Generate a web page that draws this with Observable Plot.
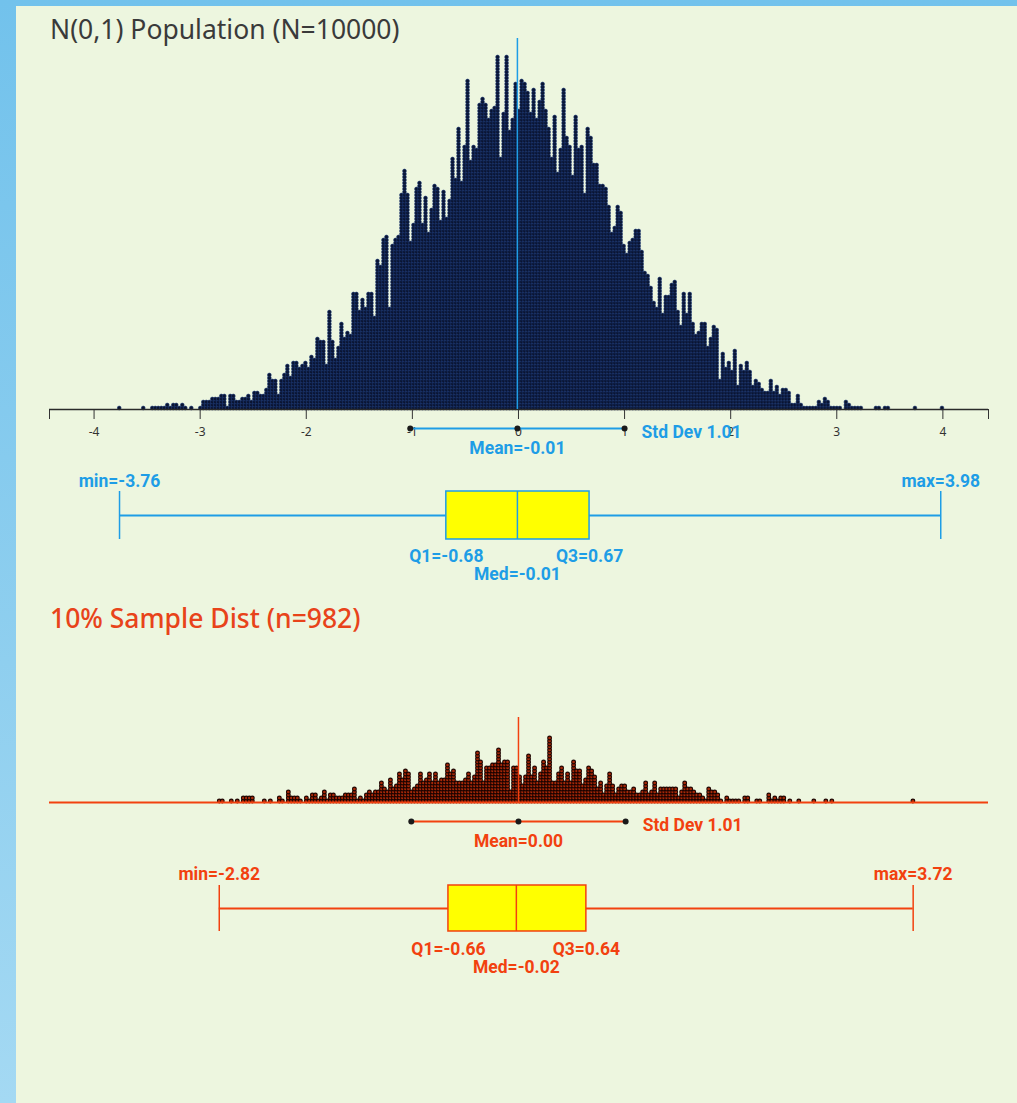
<!DOCTYPE html>
<html>
<head>
<meta charset="utf-8">
<script src="https://cdn.jsdelivr.net/npm/d3@7"></script>
<script src="https://cdn.jsdelivr.net/npm/@observablehq/plot@0.6"></script>
<style>
  html, body { margin: 0; padding: 0; }
  body { width: 1017px; height: 1103px; overflow: hidden; position: relative;
         background: linear-gradient(to bottom, #72c2ec 0%, #8fcfef 60%, #a4d9f3 100%); }
  #panel { position: absolute; left: 16px; top: 6px; width: 1001px; height: 1097px; background: #edf6df; }
  .abs { position: absolute; left: 0; }
  .title { position: absolute; font-family: "Noto Sans", sans-serif; font-size: 26.5px; line-height: 1; white-space: nowrap; }
  svg { overflow: visible; }
</style>
</head>
<body>
<div id="panel"></div>
<div class="title" id="t1" style="left:50px; top:16px; color:#3a3a3a;">N(0,1) Population (N=10000)</div>
<div class="title" id="t2" style="left:50px; top:605px; color:#e8431a; font-weight:500;">10% Sample Dist (n=982)</div>
<div class="abs" id="popHist" style="top:30px"></div>
<div class="abs" id="popBox" style="top:465px"></div>
<div class="abs" id="smpHist" style="top:700px"></div>
<div class="abs" id="smpBox" style="top:855px"></div>
<script>
// ---------------- data ----------------
// population histogram: counts per bin (bin width ~0.0283, first bin starts at -3.777)
const popBinStart = -3.777;
const popBinWidth = 0.0283;
const popCounts = [
  1,0,0,0,0,0,0,0,1,0,
  0,1,1,1,1,1,2,1,2,2,
  1,2,1,0,1,0,0,1,3,3,
  3,4,4,4,5,5,1,5,5,3,
  3,4,4,5,3,6,6,5,5,7,
  12,10,10,5,10,12,15,11,16,16,
  14,15,16,14,18,17,24,23,23,15,
  33,23,17,21,29,24,26,25,39,39,
  33,37,34,39,39,31,50,48,57,58,
  34,55,57,58,72,80,72,56,62,74,
  76,62,71,59,67,75,74,63,73,64,
  70,84,77,94,76,88,110,83,88,87,
  102,104,102,97,100,101,118,84,99,118,
  93,97,109,100,110,109,106,99,107,97,
  103,109,100,94,84,98,79,87,107,91,
  88,78,98,87,88,72,94,91,82,82,
  75,75,74,68,59,61,68,66,55,52,
  56,57,60,60,53,46,45,41,36,34,
  44,32,38,38,42,43,33,28,39,32,
  39,29,25,26,29,29,21,24,28,27,
  10,19,14,16,13,20,8,15,13,16,
  13,8,10,9,7,6,6,10,6,8,
  5,7,7,6,2,2,5,2,1,1,
  1,1,1,3,2,4,3,1,1,1,
  1,0,3,2,1,1,1,1,0,0,
  0,0,1,1,0,1,1,0,0,0,
  0,0,0,0,0,1,0,0,0,0,
  0,0,0,0,1
];
const popStats = {min: -3.76, q1: -0.68, median: -0.01, q3: 0.67, max: 3.98, mean: -0.01, sd: 1.01};

// 10% sample: counts per bin (same bin width, first bin starts at -2.834)
const smpBinStart = -2.834;
const smpBinWidth = 0.0283;
const smpCounts = [
  1,1,0,0,1,0,1,0,2,2,
  2,2,0,0,0,1,0,1,0,0,
  2,1,0,4,2,2,2,1,0,2,
  1,3,3,1,2,4,1,3,3,2,
  2,2,3,3,3,5,1,2,1,3,
  4,3,4,4,7,5,4,8,5,6,
  10,8,11,10,4,5,6,10,7,8,
  10,7,10,7,8,8,13,10,11,7,
  7,7,8,10,7,9,17,14,7,12,
  12,13,13,18,13,14,14,4,12,12,
  9,6,9,16,9,12,7,10,14,12,
  22,7,7,10,12,7,10,7,14,11,
  11,6,8,12,11,9,5,7,3,6,
  10,6,3,5,6,6,4,4,5,3,
  3,4,7,3,4,7,3,5,5,5,
  5,5,5,2,4,7,5,5,4,3,
  3,2,1,5,4,4,3,1,0,2,
  1,1,1,1,0,2,2,0,0,1,
  1,0,0,3,1,2,1,2,2,0,
  1,0,0,1,0,0,0,0,1,0,
  0,0,1,0,1,0,0,0,0,0,
  0,0,0,0,0,0,0,0,0,0,
  0,0,0,0,0,0,0,0,0,0,
  0,1
];
const smpStats = {min: -2.82, q1: -0.66, median: -0.02, q3: 0.64, max: 3.72, mean: 0.00, sd: 1.01};

const xTicks = [-4, -3, -2, -1, 0, 1, 2, 3, 4];
const xDomain = [-4.42, 4.43];

// ---------------- helpers ----------------
function stackDots(counts, start, width) {
  const out = [];
  counts.forEach((c, k) => {
    for (let j = 0; j < c; j++) out.push({x: start + (k + 0.5) * width, y: j + 0.5});
  });
  return out;
}
const W = 1017, ML = 49, MR = 29;
const LABEL_FONT = "Roboto, 'Noto Sans', sans-serif";
const labelStyle = {fontFamily: LABEL_FONT, fontWeight: 700, fontSize: 17.5};

function statRow(stats, color, baseDy) {
  return [
    Plot.ruleY([stats], {y: 0, x1: d => d.mean - d.sd, x2: d => d.mean + d.sd, dy: baseDy, stroke: color, strokeWidth: 2}),
    Plot.dot([stats.mean - stats.sd, stats.mean, stats.mean + stats.sd], {x: d => d, y: 0, dy: baseDy, r: 3, fill: "#1a1a1a"}),
    Plot.text([stats], {x: d => d.mean + d.sd, y: 0, dx: 17, dy: baseDy + 4, text: d => `Std Dev ${d.sd.toFixed(2)}`,
      textAnchor: "start", fill: color, ...labelStyle}),
    Plot.text([stats], {x: "mean", y: 0, dy: baseDy + 20, text: d => `Mean=${d.mean.toFixed(2)}`,
      textAnchor: "middle", fill: color, ...labelStyle})
  ];
}

function boxPlot(stats, color, height, mTop, mBottom) {
  const row = () => "box";
  return Plot.plot({
    width: W, height, marginTop: mTop, marginBottom: mBottom, marginLeft: ML, marginRight: MR,
    style: {background: "transparent", overflow: "visible"},
    x: {domain: xDomain, axis: null},
    y: {domain: ["box"], axis: null, padding: 0},
    marks: [
      Plot.ruleY([stats], {y: row, x1: "min", x2: "max", stroke: color, strokeWidth: 2}),
      Plot.barX([stats], {y: row, x1: "q1", x2: "q3", fill: "#ffff00", stroke: color, strokeWidth: 1.5}),
      Plot.tickX([stats.min, stats.median, stats.max], {x: d => d, y: row, stroke: color, strokeWidth: 1.5}),
      Plot.text([stats], {x: "min", y: row, dy: -34, text: d => `min=${d.min.toFixed(2)}`, fill: color, ...labelStyle}),
      Plot.text([stats], {x: "max", y: row, dy: -34, text: d => `max=${d.max.toFixed(2)}`, fill: color, ...labelStyle}),
      Plot.text([stats], {x: "q1", y: row, dy: 41, text: d => `Q1=${d.q1.toFixed(2)}`, fill: color, ...labelStyle}),
      Plot.text([stats], {x: "q3", y: row, dy: 41, text: d => `Q3=${d.q3.toFixed(2)}`, fill: color, ...labelStyle}),
      Plot.text([stats], {x: "median", y: row, dy: 59, text: d => `Med=${d.median.toFixed(2)}`, fill: color, ...labelStyle})
    ]
  });
}

const BLUE = "#1e9de6";
const RED = "#f2410f";

// ---------------- population histogram ----------------
const popDots = stackDots(popCounts, popBinStart, popBinWidth);
const popH = 430, popMT = 8, popMB = 51;
const popPlot = Plot.plot({
  width: W, height: popH, marginTop: popMT, marginBottom: popMB, marginLeft: ML, marginRight: MR,
  style: {background: "transparent", overflow: "visible", fontFamily: "'Noto Sans', sans-serif", fontSize: "12px", color: "#333"},
  x: {domain: xDomain, ticks: [xDomain[0], ...xTicks, xDomain[1]],
      tickFormat: d => xTicks.includes(d) ? String(d) : "", tickSize: 10, tickPadding: 8, label: null},
  y: {domain: [0, (popH - popMT - popMB) / 3], axis: null},
  marks: [
    Plot.dot(popDots, {x: "x", y: "y", r: 1.9, fill: "#0a1431", stroke: "#1b3774", strokeWidth: 0.6}),
    Plot.ruleY([0], {stroke: "#2a2a2a", strokeWidth: 1.5}),
    Plot.ruleX([popStats.mean], {stroke: BLUE, strokeWidth: 1.5}),
    ...statRow(popStats, BLUE, 19)
  ]
});
document.getElementById("popHist").appendChild(popPlot);

// ---------------- population box plot ----------------
document.getElementById("popBox").appendChild(boxPlot(popStats, BLUE, 115, 26, 41));

// ---------------- sample dot plot ----------------
const smpDots = stackDots(smpCounts, smpBinStart, smpBinWidth);
const smpH = 160, smpMT = 17, smpMB = 58;
const smpPlot = Plot.plot({
  width: W, height: smpH, marginTop: smpMT, marginBottom: smpMB, marginLeft: ML, marginRight: MR,
  style: {background: "transparent", overflow: "visible"},
  x: {domain: xDomain, axis: null},
  y: {domain: [0, (smpH - smpMT - smpMB) / 3], axis: null},
  marks: [
    Plot.dot(smpDots, {x: "x", y: "y", r: 1.9, fill: "#a82808", stroke: "#1c0400", strokeWidth: 1.1}),
    Plot.ruleY([0], {stroke: RED, strokeWidth: 2}),
    Plot.ruleX([smpStats.mean], {stroke: RED, strokeWidth: 1.5}),
    ...statRow(smpStats, RED, 19)
  ]
});
document.getElementById("smpHist").appendChild(smpPlot);

// ---------------- sample box plot ----------------
document.getElementById("smpBox").appendChild(boxPlot(smpStats, RED, 135, 30, 59));
</script>
</body>
</html>
